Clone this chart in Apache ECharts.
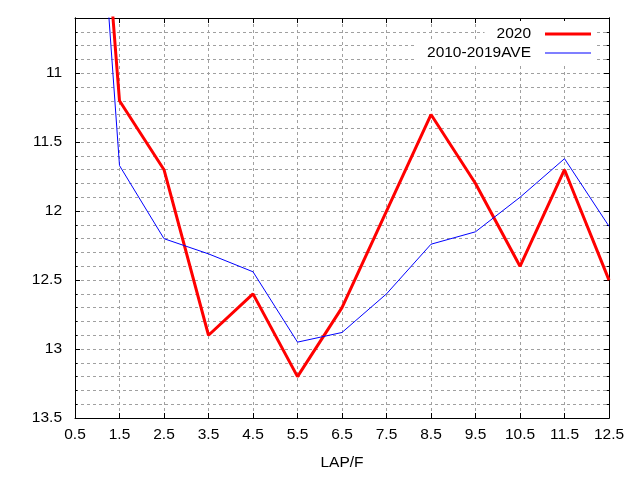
<!DOCTYPE html>
<html>
<head>
<meta charset="utf-8">
<script src="https://cdn.jsdelivr.net/npm/echarts@6/dist/echarts.min.js"></script>
<style>
  html, body { margin: 0; padding: 0; background: #fff; }
  #main { width: 640px; height: 480px; }
</style>
</head>
<body>
<div id="main"></div>
<script>
// lap positions and lap times
var laps = [0.5, 1.5, 2.5, 3.5, 4.5, 5.5, 6.5, 7.5, 8.5, 9.5, 10.5, 11.5, 12.5];
var v2020 = [7.1, 11.2, 11.7, 12.9, 12.6, 13.2, 12.7, 12.0, 11.3, 11.8, 12.4, 11.7, 12.5];
var vAve = [7.15, 11.67, 12.2, 12.31, 12.44, 12.95, 12.88, 12.6, 12.24, 12.15, 11.9, 11.62, 12.11];
var yMajor = [11, 11.5, 12, 12.5, 13, 13.5];

var font = 'Liberation Sans';
var gridLine = { show: true, lineStyle: { color: '#a0a0a0', type: [3, 3], width: 1 } };

function pairs(vals) {
    var out = [];
    for (var i = 0; i < laps.length; i++) out.push([laps[i], vals[i]]);
    return out;
}

function yLabel(v) {
    var r = Math.round(v * 10);
    if (r % 5 !== 0) return '';
    return String(r / 10);
}

function legendFor(name, top, h) {
    return {
        data: [name], right: 45, top: top, orient: 'vertical', align: 'right',
        icon: 'rect', itemWidth: 46, itemHeight: h,
        padding: [5, 4, 5, 12], backgroundColor: '#fff',
        textStyle: { fontFamily: font, fontSize: 15.5, color: '#000', padding: [0, 9, 0, 0] }
    };
}

var chart = echarts.init(document.getElementById('main'), null, {renderer: 'canvas'});

var baseY = {
    type: 'value', inverse: true, min: 10.6, max: 13.5,
    axisLine: { show: true, lineStyle: { color: '#000', width: 1 } },
    splitLine: { show: false },
    axisLabel: { show: false }
};

chart.setOption({
    animation: false,
    backgroundColor: '#fff',
    grid: { left: 75, right: 31, top: 18, bottom: 62 },
    legend: [
        legendFor('2020', 21, 3),
        legendFor('2010-2019AVE', 40, 1)
    ],
    xAxis: [
        {
            type: 'value', min: 0.5, max: 12.5, interval: 1, position: 'bottom',
            name: 'LAP/F', nameLocation: 'middle', nameGap: 37,
            nameTextStyle: { fontFamily: font, fontSize: 15.5, color: '#000' },
            axisLine: { show: true, lineStyle: { color: '#000', width: 1 } },
            axisTick: { show: true, inside: true, length: 5, lineStyle: { color: '#000' } },
            axisLabel: { fontFamily: font, fontSize: 15.5, color: '#000', margin: 9 },
            splitLine: gridLine
        },
        {
            type: 'value', min: 0.5, max: 12.5, interval: 1, position: 'top',
            axisLine: { show: true, lineStyle: { color: '#000', width: 1 } },
            axisTick: { show: true, inside: true, length: 5, lineStyle: { color: '#000' } },
            axisLabel: { show: false },
            splitLine: { show: false }
        }
    ],
    yAxis: [
        {
            type: 'value', inverse: true, min: 10.6, max: 13.5, interval: 0.1, position: 'left',
            axisLine: { show: true, lineStyle: { color: '#000', width: 1 } },
            axisTick: { show: true, inside: true, length: 2.5, lineStyle: { color: '#000' } },
            axisLabel: { fontFamily: font, fontSize: 15.5, color: '#000', margin: 13, formatter: yLabel },
            splitLine: gridLine
        },
        Object.assign({}, baseY, {
            position: 'right', interval: 0.1,
            axisTick: { show: true, inside: true, length: 2.5, lineStyle: { color: '#000' } }
        }),
        Object.assign({}, baseY, {
            position: 'left',
            axisTick: { show: true, inside: true, length: 5, customValues: yMajor, lineStyle: { color: '#000' } }
        }),
        Object.assign({}, baseY, {
            position: 'right',
            axisTick: { show: true, inside: true, length: 5, customValues: yMajor, lineStyle: { color: '#000' } }
        })
    ],
    series: [
        {
            name: '2020', type: 'line', data: pairs(v2020), symbol: 'none',
            lineStyle: { color: '#ff0000', width: 3 }, itemStyle: { color: '#ff0000' }
        },
        {
            name: '2010-2019AVE', type: 'line', data: pairs(vAve), symbol: 'none',
            lineStyle: { color: '#0000ff', width: 1 }, itemStyle: { color: '#0000ff' }
        }
    ]
});
</script>
</body>
</html>
